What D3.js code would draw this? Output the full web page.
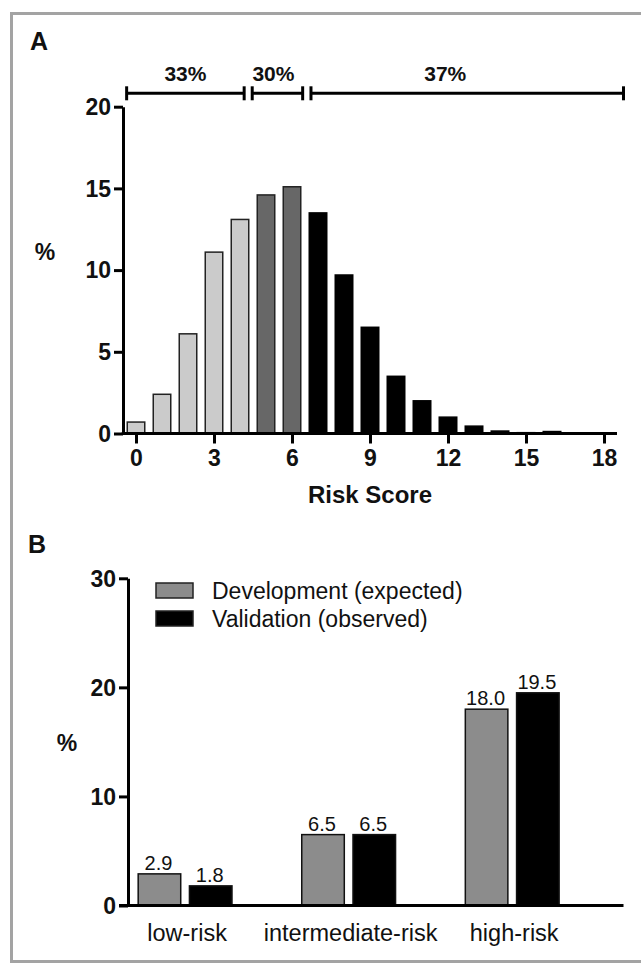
<!DOCTYPE html>
<html>
<head>
<meta charset="utf-8">
<script src="https://cdn.jsdelivr.net/npm/d3@7"></script>
<style>
body { margin: 0; background: #fff; }
svg text { font-family: 'Liberation Sans', Arial, sans-serif; fill: #111; }
</style>
</head>
<body>
<svg width="641" height="964"></svg>
<script>
// panel A: distribution of the risk score
const scores = [0, 1, 2, 3, 4, 5, 6, 7, 8, 9, 10, 11, 12, 13, 14, 15, 16, 17, 18];
const pctA = [0.7, 2.4, 6.1, 11.1, 13.1, 14.6, 15.1, 13.5, 9.7, 6.5, 3.5, 2.0, 1.0, 0.45, 0.15, 0.05, 0.12, 0, 0];
const xTicksA = [0, 3, 6, 9, 12, 15, 18];
const yTicksA = [0, 5, 10, 15, 20];

// risk groups over the score
const groupLabels = ['33%', '30%', '37%'];
const groupFirst = [0, 5, 7];
const groupLast = [4, 6, 18];

// panel B: expected vs observed
const categories = ['low-risk', 'intermediate-risk', 'high-risk'];
const seriesNames = ['Development (expected)', 'Validation (observed)'];
const development = [2.9, 6.5, 18.0];
const validation = [1.8, 6.5, 19.5];
const yTicksB = [0, 10, 20, 30];

const groupFill = ['#cbcbcb', '#676767', '#000'];
const seriesFill = ['#8c8c8c', '#000'];

const svg = d3.select('svg');

// grey frame
svg.append('rect')
	.attr('x', 11.5).attr('y', 13.5)
	.attr('width', 700).attr('height', 948)
	.attr('fill', 'none')
	.attr('stroke', '#a3a3a3')
	.attr('stroke-width', 3);

// ---------- panel A ----------
let gA = svg.append('g');
let xA = d3.scaleLinear().domain([0, 18]).range([136, 604]);
let yA = d3.scaleLinear().domain([0, 20]).range([433.5, 106.7]);

gA.append('text').attr('x', 30).attr('y', 50)
	.style('font-size', '25px').style('font-weight', 'bold').text('A');

let groupOf = s => groupFirst.findIndex((f, i) => s >= f && s <= groupLast[i]);

gA.selectAll('rect.bar')
	.data(scores)
	.join('rect')
	.attr('class', 'bar')
	.attr('x', s => xA(s) - 8.75)
	.attr('width', 17.5)
	.attr('y', (s, i) => yA(pctA[i]))
	.attr('height', (s, i) => yA(0) - yA(pctA[i]))
	.attr('fill', s => groupFill[groupOf(s)])
	.attr('stroke', s => groupOf(s) == 2 ? '#000' : '#222')
	.attr('stroke-width', (s, i) => pctA[i] > 0 ? 1.5 : 0);

// axes
let yAxisA = gA.append('g')
	.attr('transform', `translate(${xA(-0.5)},0)`)
	.call(d3.axisLeft(yA).tickValues(yTicksA).tickSize(9).tickPadding(3).tickSizeOuter(0));
let xAxisA = gA.append('g')
	.attr('transform', `translate(0,${yA(0)})`)
	.call(d3.axisBottom(xA).tickValues(xTicksA).tickSize(10).tickPadding(6).tickSizeOuter(0));
xAxisA.select('.domain').remove();
xAxisA.append('line')
	.attr('x1', xA(-0.55)).attr('x2', xA(18.5))
	.attr('stroke', '#000').attr('stroke-width', 3);

[yAxisA, xAxisA].forEach(ax => {
	ax.selectAll('path, line').attr('stroke', '#000').attr('stroke-width', 3);
	ax.selectAll('text')
		.style('font-size', '23px').style('font-weight', 'bold')
		.attr('fill', '#111');
});
yAxisA.selectAll('text').attr('dy', '0.34em');

gA.append('text').attr('x', xA(9)).attr('y', 503)
	.attr('text-anchor', 'middle')
	.style('font-size', '24px').style('font-weight', 'bold').text('Risk Score');
gA.append('text').attr('x', 45).attr('y', 260)
	.attr('text-anchor', 'middle')
	.style('font-size', '23px').style('font-weight', 'bold').text('%');

// brackets above the groups (end offsets in score units)
const bracketPad = [[0.14, -0.34], [-0.03, -0.09], [0.23, 0.25]];
const labelShift = [0, -4, -22];
let bY = 93.3;
groupLabels.forEach((lab, i) => {
	let x1 = xA(groupFirst[i] - 0.5 + bracketPad[i][0]);
	let x2 = xA(groupLast[i] + 0.5 + bracketPad[i][1]);
	let b = gA.append('g').attr('stroke', '#000').attr('stroke-width', 3);
	b.append('line').attr('x1', x1).attr('x2', x2).attr('y1', bY).attr('y2', bY);
	b.append('line').attr('x1', x1).attr('x2', x1).attr('y1', bY - 7).attr('y2', bY + 7);
	b.append('line').attr('x1', x2).attr('x2', x2).attr('y1', bY - 7).attr('y2', bY + 7);
	gA.append('text')
		.attr('x', (x1 + x2) / 2 + labelShift[i]).attr('y', 81)
		.attr('text-anchor', 'middle')
		.style('font-size', '21px').style('font-weight', 'bold')
		.text(lab);
});

// ---------- panel B ----------
let gB = svg.append('g');
let x0 = d3.scaleBand().domain(categories).range([103.3, 594]).padding(0);
let x1 = d3.scaleBand().domain(seriesNames).range([-46.9, 46.9]).paddingInner(0.17);
let yB = d3.scaleLinear().domain([0, 30]).range([905.5, 578.3]);

gB.append('text').attr('x', 28).attr('y', 553)
	.style('font-size', '25px').style('font-weight', 'bold').text('B');

let rows = [];
categories.forEach((c, i) => {
	rows.push({ cat: c, s: seriesNames[0], v: development[i], k: 0 });
	rows.push({ cat: c, s: seriesNames[1], v: validation[i], k: 1 });
});

let centre = c => x0(c) + x0.bandwidth() / 2;

gB.selectAll('rect.bar')
	.data(rows)
	.join('rect')
	.attr('class', 'bar')
	.attr('x', d => centre(d.cat) + x1(d.s))
	.attr('width', x1.bandwidth())
	.attr('y', d => yB(d.v))
	.attr('height', d => yB(0) - yB(d.v))
	.attr('fill', d => seriesFill[d.k])
	.attr('stroke', '#111')
	.attr('stroke-width', 1.5);

gB.selectAll('text.val')
	.data(rows)
	.join('text')
	.attr('class', 'val')
	.attr('x', d => centre(d.cat) + x1(d.s) + x1.bandwidth() / 2 - 1)
	.attr('y', d => yB(d.v) - 4)
	.attr('text-anchor', 'middle')
	.style('font-size', '20px')
	.text(d => d.v.toFixed(1));

let yAxisB = gB.append('g')
	.attr('transform', 'translate(128,0)')
	.call(d3.axisLeft(yB).tickValues(yTicksB).tickSize(9).tickPadding(3).tickSizeOuter(0));
yAxisB.selectAll('path, line').attr('stroke', '#000').attr('stroke-width', 3);
yAxisB.selectAll('text')
	.style('font-size', '23px').style('font-weight', 'bold')
	.attr('fill', '#111').attr('dy', '0.34em');

gB.append('line')
	.attr('x1', 119).attr('x2', 623.5)
	.attr('y1', yB(0)).attr('y2', yB(0))
	.attr('stroke', '#000').attr('stroke-width', 3);

gB.selectAll('text.cat')
	.data(categories)
	.join('text')
	.attr('class', 'cat')
	.attr('x', c => centre(c) + 2)
	.attr('y', 941)
	.attr('text-anchor', 'middle')
	.style('font-size', '23.5px')
	.text(c => c);

gB.append('text').attr('x', 67).attr('y', 751)
	.attr('text-anchor', 'middle')
	.style('font-size', '23px').style('font-weight', 'bold').text('%');

// legend
let leg = gB.selectAll('g.leg')
	.data(seriesNames)
	.join('g')
	.attr('class', 'leg')
	.attr('transform', (d, i) => `translate(156,${583 + i * 28})`);
leg.append('rect')
	.attr('width', 37).attr('height', 15)
	.attr('fill', (d, i) => seriesFill[i])
	.attr('stroke', '#222').attr('stroke-width', 1.5);
leg.append('text')
	.attr('x', 56).attr('y', 16)
	.style('font-size', '23px')
	.text(d => d);
</script>
</body>
</html>
